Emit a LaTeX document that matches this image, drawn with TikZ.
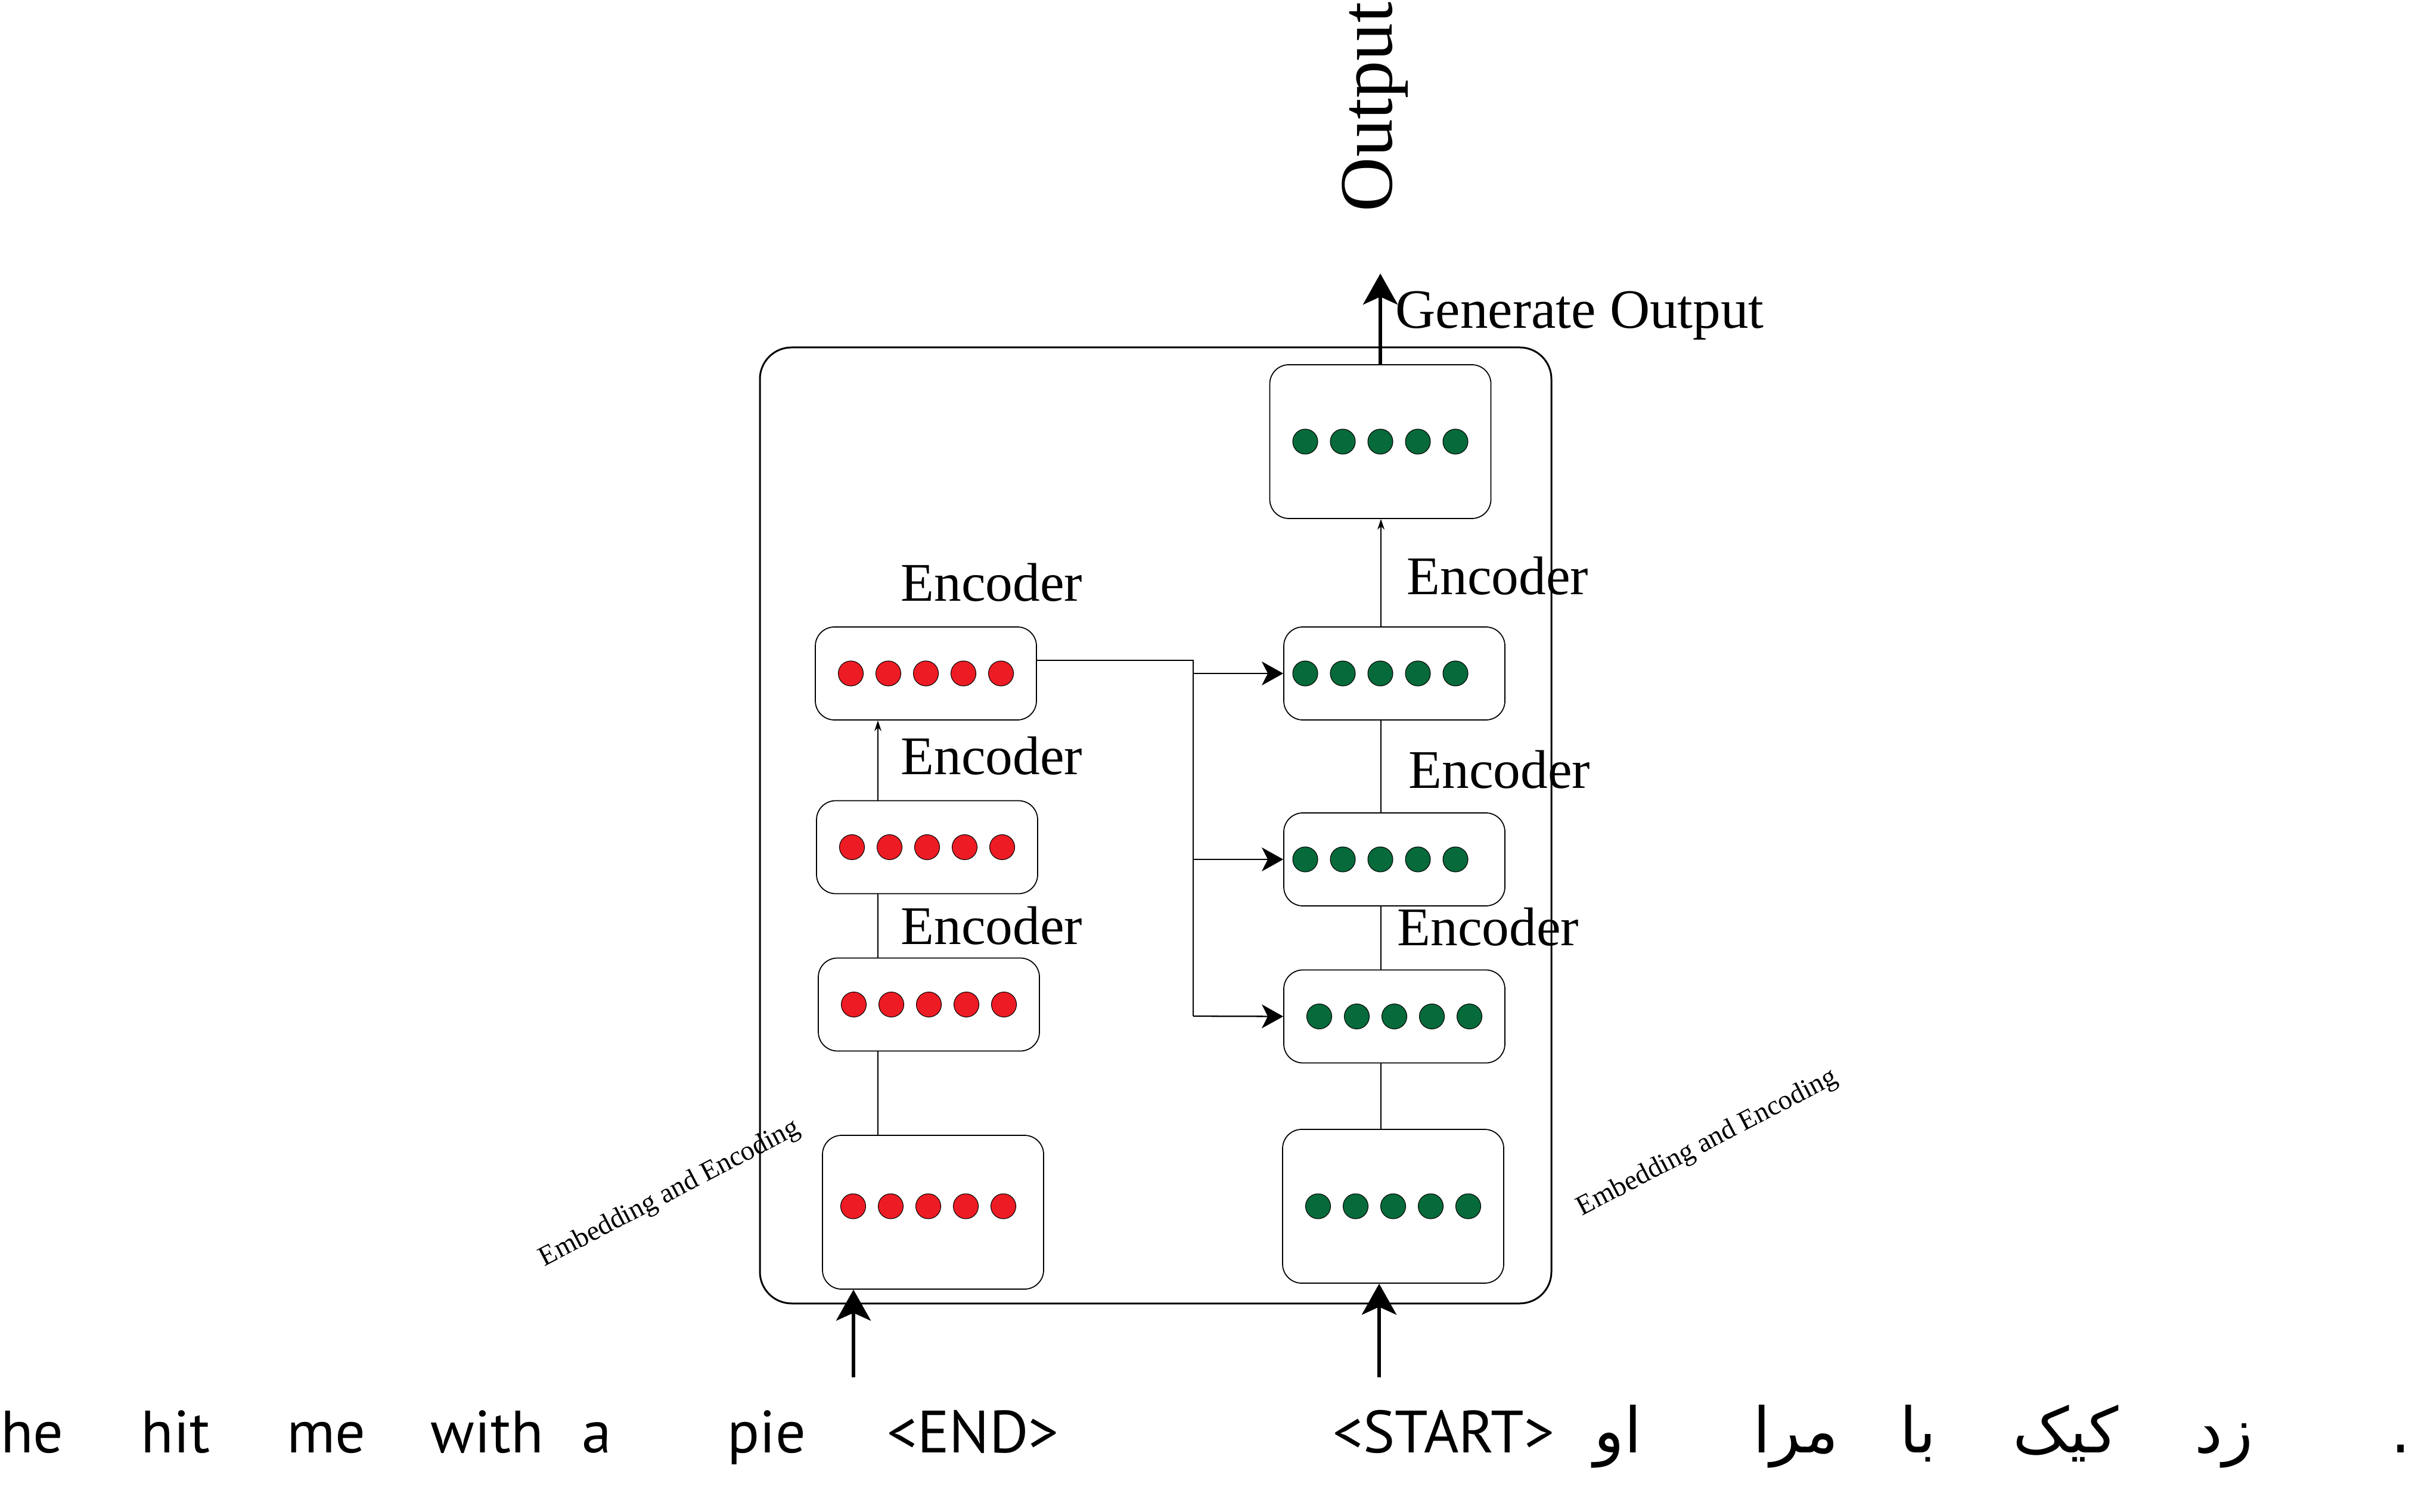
\documentclass[tikz,border=0pt]{standalone}
\usepackage{fontspec}
\setmainfont{Liberation Serif}
\newfontfamily\wordfont{PT Sans}
\newfontfamily\farsifont[Script=Arabic]{DejaVu Sans}
\TeXXeTstate=1
\usepackage{tikz}
\usetikzlibrary{shapes.geometric, arrows.meta, calc, positioning}
\definecolor{dotred}{RGB}{237,28,36}
\definecolor{dotgreen}{RGB}{6,106,58}

\begin{document}
\begin{tikzpicture}
    % Define styles for blocks and arrows
    \tikzstyle{outerframe} = [rectangle, draw, rounded corners=0.53cm, line width=0.85pt, minimum width=13.28cm, minimum height=16.04cm]
    \tikzstyle{layerbox} = [rectangle, draw, rounded corners=0.32cm, line width=0.5pt, minimum width=3.71cm, minimum height=1.56cm]
    \tikzstyle{inputbox} = [layerbox, minimum height=2.58cm]
    \tikzstyle{enclabel} = [font=\fontsize{26}{30}\selectfont, anchor=base west, inner sep=0pt]
    \tikzstyle{embedlabel} = [font=\fontsize{13.3}{16}\selectfont, rotate=27.5, anchor=base, inner sep=0pt]
    \tikzstyle{word} = [font=\wordfont\fontsize{28.5}{32}\selectfont, anchor=base, inner sep=0pt]
    \tikzstyle{farsiword} = [font=\farsifont\fontsize{30}{34}\selectfont, anchor=base, inner sep=0pt]
    \tikzstyle{reddot} = [draw, fill=dotred, line width=0.3pt]
    \tikzstyle{greendot} = [draw, fill=dotgreen, line width=0.3pt]
    \tikzstyle{link} = [line width=0.35pt]
    \tikzstyle{linkarrow} = [link, -{Stealth[length=0.18cm, width=0.12cm]}]
    \tikzstyle{bus} = [line width=0.65pt]
    \tikzstyle{busarrow} = [bus, -{Stealth[length=0.36cm, width=0.4cm, inset=0.1cm]}]
    \tikzstyle{bigarrow} = [line width=1.7pt, -{Stealth[length=0.52cm, width=0.58cm, inset=0.13cm]}]

    \useasboundingbox (0,0) rectangle (40.47,25.36);

    % Nodes
    \node (frame) [outerframe] at (19.39,11.51) {};

    \node (r0) [inputbox] at (15.655,5.02) {};
    \node (r1) [layerbox] at (15.585,8.505) {};
    \node (r2) [layerbox] at (15.555,11.145) {};
    \node (r3) [layerbox] at (15.535,14.06) {};

    \node (g0) [inputbox] at (23.375,5.12) {};
    \node (g1) [layerbox] at (23.395,8.305) {};
    \node (g2) [layerbox] at (23.395,10.94) {};
    \node (g3) [layerbox] at (23.395,14.06) {};
    \node (gen) [inputbox] at (23.16,17.95) {};

    % Vectors inside the blocks
    \foreach \b/\dx/\dy in {r0/-0.08/0.1, r1/0/0, r2/0/0, r3/0/0}
        \foreach \i in {-2,...,2}
            \draw[reddot] ($(\b.center)+(\i*0.63+\dx,\dy)$) circle (0.21);
    \foreach \b/\dx/\dy in {g0/0/0, g1/0/0, g2/-0.235/0, g3/-0.235/0, gen/0/0}
        \foreach \i in {-2,...,2}
            \draw[greendot] ($(\b.center)+(\i*0.63+\dx,\dy)$) circle (0.21);

    % Labels
    \node (encsrc1) [enclabel] at (15.11,9.52) {Encoder};
    \node (encsrc2) [enclabel] at (15.11,12.36) {Encoder};
    \node (encsrc3) [enclabel] at (15.11,15.27) {Encoder};
    \node (enctgt1) [enclabel] at (23.44,9.50) {Encoder};
    \node (enctgt2) [enclabel] at (23.63,12.14) {Encoder};
    \node (enctgt3) [enclabel] at (23.60,15.38) {Encoder};
    \node (genlabel) [enclabel, font=\fontsize{26.5}{30}\selectfont] at (23.41,19.85) {Generate Output};
    \node (output) [enclabel, rotate=90, font=\fontsize{36}{40}\selectfont] at (23.35,21.80) {Output};
    \node (embsrc) [embedlabel] at (11.29,5.23) {Embedding and Encoding};
    \node (embtgt) [embedlabel] at (28.70,6.08) {Embedding and Encoding};

    % Sentences
    \node (src1) [word] at (0.54,0.99) {he};
    \node (src2) [word] at (2.945,0.99) {hit};
    \node (src3) [word] at (5.475,0.99) {me};
    \node (src4) [word] at (8.175,0.99) {with};
    \node (src5) [word] at (10.01,0.99) {a};
    \node (src6) [word] at (12.865,0.99) {pie};
    \node (src7) [word] at (16.325,0.99) {<END>};
    \node (tgt0) [word] at (24.22,0.99) {<START>};
    \node (tgt1) [farsiword] at (27.15,0.99) {\beginR او\endR};
    \node (tgt2) [farsiword] at (30.13,0.99) {\beginR مرا\endR};
    \node (tgt3) [farsiword] at (32.185,0.99) {\beginR با\endR};
    \node (tgt4) [farsiword] at (34.66,0.99) {\beginR کیک\endR};
    \node (tgt5) [farsiword] at (37.31,0.99) {\beginR زد\endR};
    \node (tgt6) [farsiword] at (40.285,0.99) {.};

    \coordinate (redaxis) at (14.73,0);
    \coordinate (greenaxis) at (23.17,0);
    \coordinate (fork) at (20.02,8.31);
    \coordinate (srcfeed) at (14.32,2.25);
    \coordinate (tgtfeed) at (23.14,2.25);
    \coordinate (genout) at (23.16,20.77);

    % Arrows
    \draw [link] (r0.north -| redaxis) -- (r1.south -| redaxis);
    \draw [link] (r1.north -| redaxis) -- (r2.south -| redaxis);
    \draw [linkarrow] (r2.north -| redaxis) -- (r3.south -| redaxis);
    \draw [link] (g0.north -| greenaxis) -- (g1.south -| greenaxis);
    \draw [link] (g1.north -| greenaxis) -- (g2.south -| greenaxis);
    \draw [link] (g2.north -| greenaxis) -- (g3.south -| greenaxis);
    \draw [linkarrow] (g3.north -| greenaxis) -- (gen.south -| greenaxis);

    \draw [bus] ([yshift=0.22cm]r3.east) -| (fork);
    \draw [busarrow] (fork |- g3.west) -- (g3.west);
    \draw [busarrow] (fork |- g2.west) -- (g2.west);
    \draw [busarrow] (fork) -- (g1.west);

    \draw [bigarrow] (srcfeed) -- (srcfeed |- r0.south);
    \draw [bigarrow] (tgtfeed) -- (tgtfeed |- g0.south);
    \draw [bigarrow] (gen.north) -- (genout);

\end{tikzpicture}
\end{document}
